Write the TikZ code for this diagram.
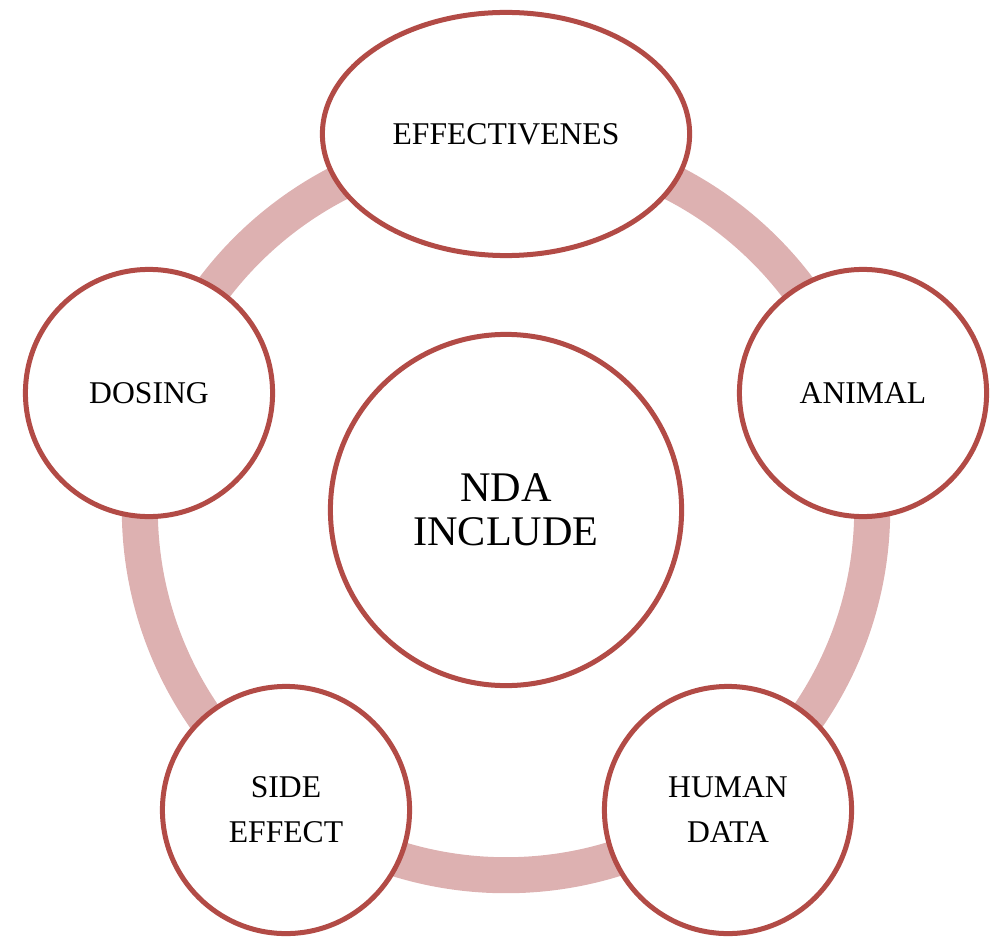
\documentclass[tikz,border=0pt]{standalone}
\usepackage{fontspec}
\setmainfont{Liberation Serif}
\usetikzlibrary{shapes.geometric}
\definecolor{edgered}{RGB}{178,75,70}
\definecolor{ringpink}{RGB}{221,177,177}
\tikzset{
  topic/.style={circle, draw=edgered, line width=0.05cm, fill=white, inner sep=0pt,
    minimum size=2.47cm, align=center, font=\fontsize{9pt}{12.8pt}\selectfont},
  hub/.style={circle, draw=edgered, line width=0.05cm, fill=white, inner sep=0pt,
    minimum size=3.51cm, align=center, font=\fontsize{12pt}{12.4pt}\selectfont},
  topoval/.style={ellipse, draw=edgered, line width=0.05cm, fill=white, inner sep=0pt,
    minimum width=3.67cm, minimum height=2.43cm, align=center, font=\fontsize{9pt}{12.8pt}\selectfont},
  cyclering/.style={draw=ringpink, line width=0.36cm}
}
\begin{document}
\begin{tikzpicture}[x=0.01cm, y=-0.01cm]
\useasboundingbox (0,0) rectangle (995,937);
\coordinate (ringc) at (506,509);
\draw[cyclering] (ringc) circle [radius=3.66cm];
\node[hub] (nda) at (506,510) {NDA\\INCLUDE};
\node[topoval] (eff) at (506,134) {EFFECTIVENES};
\node[topic] (animal) at (863,393) {ANIMAL};
\node[topic] (human) at (728,810) {HUMAN\\DATA};
\node[topic] (side) at (286,810) {SIDE\\EFFECT};
\node[topic] (dosing) at (149,393) {DOSING};
\end{tikzpicture}
\end{document}
